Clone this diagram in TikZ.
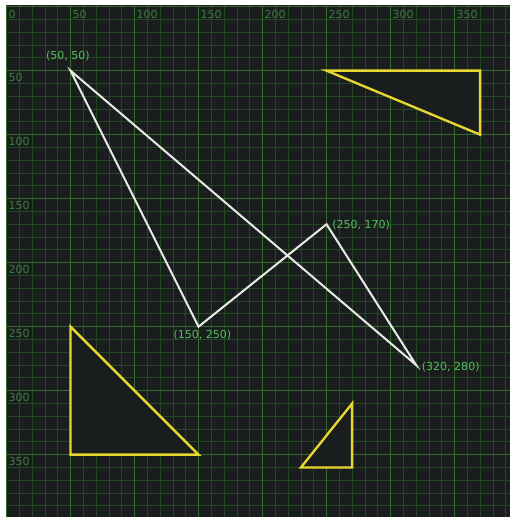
\documentclass[tikz,border=0pt]{standalone}
\usepackage{fontspec}
\setmainfont{DejaVu Sans}
\definecolor{bg}{RGB}{26,29,29}
\definecolor{minorc}{RGB}{36,70,34}
\definecolor{majorc}{RGB}{52,104,44}
\definecolor{axisc}{RGB}{52,128,56}
\definecolor{ptc}{RGB}{84,192,94}
\definecolor{polyc}{RGB}{232,232,228}
\definecolor{triy}{RGB}{232,214,48}
\tikzset{
  minorline/.style={draw=minorc, line width=0.75pt},
  majorline/.style={draw=majorc, line width=1.1pt},
  axislabel/.style={text=axisc, font=\fontsize{9.8}{10}\selectfont, inner sep=1pt},
  ptlabel/.style={text=ptc, font=\fontsize{9.8}{10}\selectfont, inner sep=1.5pt},
  poly/.style={draw=polyc, line width=1.8pt, line join=miter},
  tri/.style={draw=triy, fill=bg, line width=2.1pt, line join=miter}
}
\begin{document}
\begin{tikzpicture}[x=0.04cm, y=-0.04cm]
\useasboundingbox (-5.1,-5.2) rectangle (393.4,398.7);
\fill[white] (-5.1,-5.2) rectangle (393.4,398.7);
\fill[bg] (0.3,-1.5) rectangle (393.4,398.7);
% grid
\foreach \u in {0,10,...,390} \draw[minorline] (\u,-1.5) -- (\u,398.7);
\foreach \v in {0,10,...,390} \draw[minorline] (0.3,\v) -- (393.4,\v);
\foreach \u in {0,50,...,350} \draw[majorline] (\u,-1.5) -- (\u,398.7);
\foreach \v in {0,50,...,350} \draw[majorline] (0.3,\v) -- (393.4,\v);
% axis labels
\node[axislabel, anchor=north west] (ax0) at (0.5,2) {0};
\foreach \u in {50,100,...,350} \node[axislabel, anchor=north west] (ax\u) at (\u+0.5,2) {\u};
\foreach \v in {50,100,...,350} \node[axislabel, anchor=north west] (ay\v) at (0.5,\v+1) {\v};
% triangles
\draw[tri] (250,50) -- (370,50) -- (370,100) -- cycle;
\draw[tri] (50,250) -- (50,350) -- (150,350) -- cycle;
\draw[tri] (270,310) -- (270,360) -- (230,360) -- cycle;
% polygon
\coordinate (p1) at (50,50);
\coordinate (p2) at (150,250);
\coordinate (p3) at (250,170);
\coordinate (p4) at (320,280);
\draw[poly] (p1) -- (p2) -- (p3) -- (p4) -- cycle;
% point labels
\node[ptlabel, anchor=south] (l1) at (48,44) {(50, 50)};
\node[ptlabel, anchor=north] (l2) at (153,251) {(150, 250)};
\node[ptlabel, anchor=west] (l3) at (253,171) {(250, 170)};
\node[ptlabel, anchor=west] (l4) at (323,281.5) {(320, 280)};
\end{tikzpicture}
\end{document}
